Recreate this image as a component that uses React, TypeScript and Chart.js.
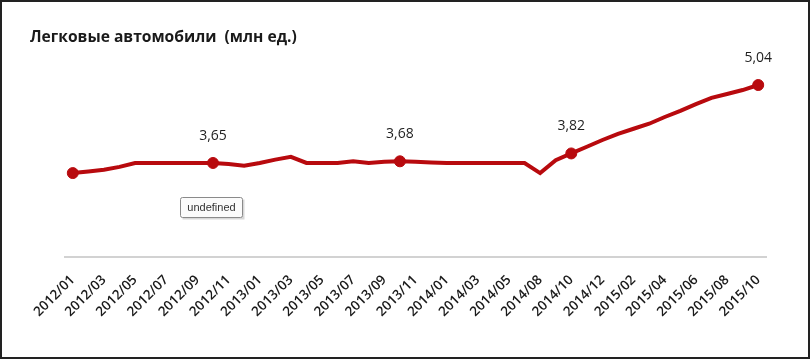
import React, { useEffect, useRef } from "react";
import { Chart, registerables } from "chart.js";

Chart.register(...registerables);

const TITLE = "Легковые автомобили  (млн ед.)";

const months = [
  "2012/01", "2012/02", "2012/03", "2012/04", "2012/05", "2012/06",
  "2012/07", "2012/08", "2012/09", "2012/10", "2012/11", "2012/12",
  "2013/01", "2013/02", "2013/03", "2013/04", "2013/05", "2013/06",
  "2013/07", "2013/08", "2013/09", "2013/10", "2013/11", "2013/12",
  "2014/01", "2014/02", "2014/03", "2014/04", "2014/05", "2014/07",
  "2014/08", "2014/09", "2014/10", "2014/11", "2014/12",
  "2015/01", "2015/02", "2015/03", "2015/04", "2015/05", "2015/06",
  "2015/07", "2015/08", "2015/09", "2015/10",
];

const sales = [
  3.47, 3.5, 3.53, 3.58, 3.65, 3.65, 3.65, 3.65, 3.65, 3.65,
  3.63, 3.6, 3.65, 3.71, 3.76, 3.65, 3.65, 3.65, 3.68, 3.65,
  3.67, 3.68, 3.67, 3.66, 3.65, 3.65, 3.65, 3.65, 3.65, 3.65,
  3.47, 3.7, 3.82, 3.94, 4.06, 4.17, 4.26, 4.35, 4.47, 4.58,
  4.7, 4.81, 4.88, 4.95, 5.04,
];

const markerIdx = [0, 9, 21, 32, 44];
const labeledIdx = [9, 21, 32, 44];
const noteIdx = 9;
const noteText = "undefined";

const RED = "#B80A0E";

const labelsPlugin = {
  id: "valueLabels",
  afterDatasetsDraw(chart: any) {
    const meta = chart.getDatasetMeta(0);
    const ctx = chart.ctx;
    ctx.save();
    ctx.font = '14px "Open Sans"';
    ctx.fillStyle = "#1e1e1e";
    ctx.textAlign = "center";
    ctx.textBaseline = "middle";
    labeledIdx.forEach((i) => {
      const p = meta.data[i];
      ctx.fillText(sales[i].toFixed(2).replace(".", ","), p.x, p.y - 27);
    });
    // note box
    const p = meta.data[noteIdx];
    const w = 62, h = 20;
    const x0 = Math.round(p.x - 33) + 0.5, y0 = Math.round(p.y + 34) + 0.5;
    ctx.fillStyle = "#d8d8d8";
    ctx.fillRect(x0 + 2, y0 + 2, w, h);
    ctx.fillStyle = "#fbfbfb";
    ctx.strokeStyle = "#8a8a8a";
    ctx.lineWidth = 1;
    ctx.beginPath();
    ctx.roundRect(x0, y0, w, h, 2);
    ctx.fill();
    ctx.stroke();
    ctx.font = '11px "Liberation Sans"';
    ctx.fillStyle = "#333";
    ctx.fillText(noteText, x0 + w / 2, y0 + h / 2 + 0.5);
    ctx.restore();
  },
};

export default function App() {
  const ref = useRef<HTMLCanvasElement>(null);
  useEffect(() => {
    const chart = new Chart(ref.current!, {
      type: "line",
      data: {
        labels: months,
        datasets: [
          {
            data: sales,
            borderColor: RED,
            backgroundColor: RED,
            borderWidth: 4,
            tension: 0,
            pointRadius: sales.map((_, i) => (markerIdx.includes(i) ? 5.5 : 0)),
            pointBackgroundColor: RED,
            pointBorderColor: RED,
            pointBorderWidth: 1,
          },
        ],
      },
      options: {
        responsive: false,
        animation: false,
        layout: { padding: { left: 65, right: 44, top: 50, bottom: 0 } },
        plugins: { legend: { display: false }, tooltip: { enabled: false }, title: { display: false } },
        scales: {
          y: { display: false, min: 1.974, max: 5.664 },
          x: {
            offset: true,
            grid: { display: false, drawTicks: false },
            border: { display: true, color: "#d2d2d2", width: 2 },
            ticks: {
              autoSkip: false,
              minRotation: 45,
              maxRotation: 45,
              padding: 15,
              color: "#1a1a1a",
              font: { family: "Open Sans", size: 13.5, weight: "600" },
              callback: (_v: any, i: number) => (i % 2 === 0 ? months[i] : null),
            },
            afterFit: (s: any) => {
              s.height = 102;
            },
          },
        },
      },
      plugins: [labelsPlugin],
    });
    return () => chart.destroy();
  }, []);
  return (
    <div style={{ position: "absolute", left: 0, top: 0, width: 810, height: 359, background: "#fff", overflow: "hidden" }}>
      <canvas ref={ref} width={810} height={359} style={{ position: "absolute", left: 0, top: 0, width: 810, height: 359 }} />
      <div style={{ position: "absolute", left: 30, top: 25, font: 'bold 15.6px "Open Sans"', color: "#1a1a1a", whiteSpace: "pre" }}>{TITLE}</div>
      <div style={{ position: "absolute", left: 0, top: 0, width: 810, height: 359, border: "2px solid #222", boxSizing: "border-box", pointerEvents: "none" }} />
    </div>
  );
}
